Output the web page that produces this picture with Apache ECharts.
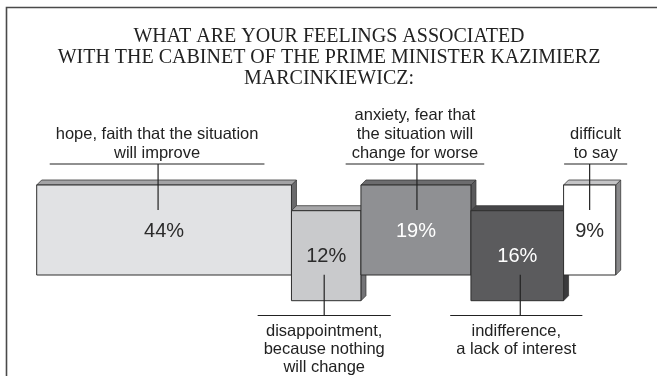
<!DOCTYPE html>
<html>
<head>
<meta charset="utf-8">
<script src="https://cdn.jsdelivr.net/npm/echarts@6/dist/echarts.min.js"></script>
<style>
  html, body { margin: 0; padding: 0; background: #fff; }
  #chart { width: 657px; height: 376px; }
</style>
</head>
<body>
<div id="chart"></div>
<script>
// Survey answers, in the order they are stacked left to right
const categories = [
  'hope, faith that the situation\nwill improve',
  'disappointment,\nbecause nothing\nwill change',
  'anxiety, fear that\nthe situation will\nchange for worse',
  'indifference,\na lack of interest',
  'difficult\nto say'
];
const shares = [44, 12, 19, 16, 9];
const shareLabels = ['44%', '12%', '19%', '16%', '9%'];

// Face colours for each block: front, top, side, and the colour of the percent text
const frontColors = ['#e1e2e4', '#c9cacc', '#8f9093', '#5b5b5d', '#ffffff'];
const topColors   = ['#a3a3a5', '#a6a6a8', '#6c6c6e', '#464648', '#c4c4c6'];
const sideColors  = ['#6a6a6c', '#747477', '#5a5a5c', '#3a3a3c', '#8a8a8c'];
const pctColors   = ['#2b2b2b', '#2b2b2b', '#ffffff', '#ffffff', '#2b2b2b'];

// Small horizontal nudges for the callouts (pixels)
const calloutTextShift = [-7, -2, -1, -1, 6];
const calloutLeaderShift = [-6, -2, 1, 3, 0];

// Cumulative spans so every block's width equals its share
const spans = [];
let acc = 0;
shares.forEach((v, i) => {
  spans.push([acc, acc + v, v, i]);
  acc += v;
});

const LABEL_FONT = '16.5px "Liberation Sans", Arial, sans-serif';
const measureCtx = document.createElement('canvas').getContext('2d');
measureCtx.font = LABEL_FONT;
function textWidth(str) {
  return Math.max.apply(null, str.split('\n').map(s => measureCtx.measureText(s).width));
}

const BLOCK_H = 90;   // height of each block in pixels
const DEPTH = 5;      // 3D extrusion
const TOP_RULE = 164; // rule above raised blocks
const BOTTOM_RULE = 315.5;

function renderItem(params, api) {
  const i = params.dataIndex;
  const x0 = api.coord([api.value(0), 1])[0];
  const x1 = api.coord([api.value(1), 1])[0];
  const yHigh = api.coord([0, 1])[1];
  const yLow = api.coord([0, 0])[1];
  const raised = i % 2 === 0;
  const top = raised ? yHigh : yLow - BLOCK_H;
  const bottom = top + BLOCK_H;
  const cx = (x0 + x1) / 2;
  const d = DEPTH;

  const children = [
    {
      type: 'polygon',
      shape: { points: [[x1, top], [x1 + d, top - d], [x1 + d, bottom - d], [x1, bottom]] },
      style: { fill: sideColors[i], stroke: '#3a3a3a', lineWidth: 0.8 }
    },
    {
      type: 'polygon',
      shape: { points: [[x0, top], [x0 + d, top - d], [x1 + d, top - d], [x1, top]] },
      style: { fill: topColors[i], stroke: '#3a3a3a', lineWidth: 0.8 }
    },
    {
      type: 'rect',
      shape: { x: x0, y: top, width: x1 - x0, height: BLOCK_H },
      style: { fill: frontColors[i], stroke: '#2e2e2e', lineWidth: 1 }
    },
    {
      type: 'text',
      style: {
        text: shareLabels[i],
        x: cx, y: (top + bottom) / 2 + 1,
        align: 'center', verticalAlign: 'middle',
        font: '20px "Liberation Sans", Arial, sans-serif',
        fill: pctColors[i]
      }
    }
  ];

  const tx = cx + calloutTextShift[i];
  const lx = cx + calloutLeaderShift[i];
  const w = textWidth(categories[i]) + 12;
  if (raised) {
    children.push(
      { type: 'line', shape: { x1: lx, y1: TOP_RULE, x2: lx, y2: top + 25 }, style: { stroke: '#222', lineWidth: 1.2 } },
      { type: 'line', shape: { x1: tx - w / 2, y1: TOP_RULE, x2: tx + w / 2, y2: TOP_RULE }, style: { stroke: '#222', lineWidth: 1.2 } },
      {
        type: 'text',
        style: {
          text: categories[i], x: tx, y: TOP_RULE - 1,
          align: 'center', verticalAlign: 'bottom',
          font: LABEL_FONT, lineHeight: 19, fill: '#222'
        }
      }
    );
  } else {
    children.push(
      { type: 'line', shape: { x1: lx, y1: BOTTOM_RULE, x2: lx, y2: bottom - 26 }, style: { stroke: '#222', lineWidth: 1.2 } },
      { type: 'line', shape: { x1: tx - w / 2, y1: BOTTOM_RULE, x2: tx + w / 2, y2: BOTTOM_RULE }, style: { stroke: '#222', lineWidth: 1.2 } },
      {
        type: 'text',
        style: {
          text: categories[i], x: tx, y: BOTTOM_RULE + 7,
          align: 'center', verticalAlign: 'top',
          font: LABEL_FONT, lineHeight: 18, fill: '#222'
        }
      }
    );
  }
  return { type: 'group', children: children };
}

const chart = echarts.init(document.getElementById('chart'), null, { renderer: 'canvas' });
chart.setOption({
  animation: false,
  backgroundColor: '#ffffff',
  title: {
    text: 'WHAT ARE YOUR FEELINGS ASSOCIATED\nWITH THE CABINET OF THE PRIME MINISTER KAZIMIERZ\nMARCINKIEWICZ:',
    left: 329,
    top: 26,
    padding: 0,
    textAlign: 'center',
    textStyle: {
      fontFamily: '"Liberation Serif", "Times New Roman", serif',
      fontSize: 20,
      fontWeight: 'normal',
      color: '#222',
      lineHeight: 21
    }
  },
  graphic: [
    {
      type: 'polyline',
      shape: { points: [[6.5, 376], [6.5, 7.5], [657, 7.5]] },
      style: { stroke: '#4a4a4a', lineWidth: 1.6, fill: null }
    }
  ],
  grid: { left: 36.7, right: 41.3, top: 185, height: 115.7 },
  xAxis: { type: 'value', min: 0, max: 100, show: false },
  yAxis: { type: 'value', min: 0, max: 1, show: false },
  series: [
    {
      type: 'custom',
      renderItem: renderItem,
      data: spans,
      encode: { x: [0, 1] },
      clip: false
    }
  ]
});
</script>
</body>
</html>
